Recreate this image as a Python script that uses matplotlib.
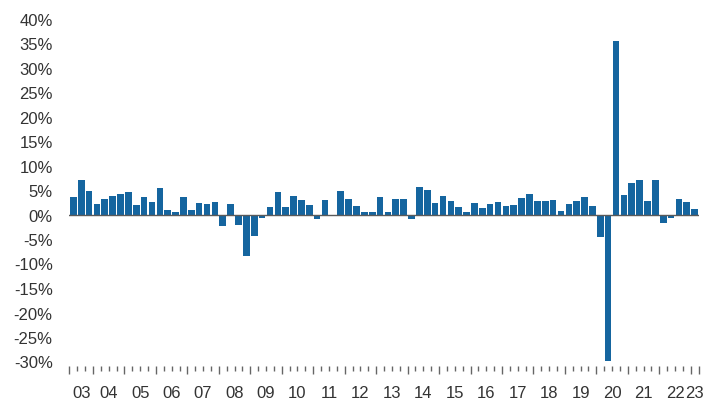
import matplotlib
matplotlib.use("Agg")
import matplotlib.pyplot as plt
import numpy as np

# Quarterly growth (annualised, %), 2003Q2 .. 2023Q1
quarters = [f"{y}Q{q}" for y in range(2003, 2024) for q in range(1, 5)]
quarters = quarters[quarters.index("2003Q2"):quarters.index("2023Q1") + 1]

growth = [
    3.6, 7.1, 4.8,                      # 2003 Q2-Q4
    2.2, 3.2, 3.8, 4.2,                 # 2004
    4.6, 2.0, 3.6, 2.6,                 # 2005
    5.4, 1.0, 0.5, 3.6,                 # 2006
    1.0, 2.4, 2.2, 2.6,                 # 2007
    -2.3, 2.2, -2.1, -8.4,              # 2008
    -4.4, -0.7, 1.6, 4.6,               # 2009
    1.6, 3.8, 3.0, 2.0,                 # 2010
    -1.0, 3.0, -0.1, 4.8,               # 2011
    3.2, 1.8, 0.5, 0.5,                 # 2012
    3.6, 0.5, 3.2, 3.2,                 # 2013
    -1.0, 5.6, 5.0, 2.4,                # 2014
    3.8, 2.8, 1.6, 0.5,                 # 2015
    2.4, 1.4, 2.2, 2.6,                 # 2016
    1.8, 2.0, 3.4, 4.2,                 # 2017
    2.8, 2.8, 3.0, 0.7,                 # 2018
    2.2, 2.8, 3.6, 1.8,                 # 2019
    -4.6, -29.9, 35.5, 4.0,             # 2020
    6.5, 7.1, 2.8, 7.1,                 # 2021
    -1.7, -0.7, 3.2, 2.6,               # 2022
    1.2,                                # 2023 Q1
]

year_labels = ["03", "04", "05", "06", "07", "08", "09", "10", "11", "12",
               "13", "14", "15", "16", "17", "18", "19", "20", "21", "22", "23"]
y_ticks = [40, 35, 30, 25, 20, 15, 10, 5, 0, -5, -10, -15, -20, -25, -30]

bar_color = "#15659f"
text_color = "#333333"
tick_color = "#666666"

plt.rcParams["font.family"] = ["Liberation Sans", "DejaVu Sans"]

fig = plt.figure(figsize=(7.21, 4.02), dpi=100)
ax = fig.add_axes([69.4 / 721, 1 - 362.5 / 402, (698.6 - 69.4) / 721, (362.5 - 19.5) / 402])

x = np.arange(len(growth))
ax.bar(x, growth, width=0.84, color=bar_color, zorder=2)
ax.axhline(0, color="#5a5a5a", lw=1.0, zorder=3)

ax.set_xlim(-0.5, len(growth) - 0.5)
ax.set_ylim(-30, 40)

for s in ax.spines.values():
    s.set_visible(False)

# y axis
ax.set_yticks(y_ticks)
ax.set_yticklabels([f"{v}%" for v in y_ticks])
ax.tick_params(axis="y", length=0, pad=12, labelsize=12, labelcolor=text_color)

# x axis: tall ticks at year boundaries, short at quarter boundaries
years = [int(q[:4]) for q in quarters]
bounds = [-0.5] + [i - 0.5 for i in range(1, len(quarters)) if years[i] != years[i - 1]] + [len(quarters) - 0.5]
minor = [i - 0.5 for i in range(1, len(quarters)) if years[i] == years[i - 1]]
ax.spines["bottom"].set_position(("outward", 3.5))
ax.set_xticks(bounds)
ax.set_xticklabels([])
ax.set_xticks(minor, minor=True)
ax.tick_params(axis="x", which="major", length=6, width=1.0, color=tick_color, direction="out")
ax.tick_params(axis="x", which="minor", length=3.5, width=1.0, color=tick_color, direction="out")

centers = [(bounds[k] + bounds[k + 1]) / 2 for k in range(len(bounds) - 1)]
sec = ax.secondary_xaxis("bottom")
sec.set_xticks(centers)
sec.set_xticklabels(year_labels)
sec.tick_params(length=0, pad=17, labelsize=12, labelcolor=text_color)
for s in sec.spines.values():
    s.set_visible(False)

fig.savefig("out.png", dpi=100)
